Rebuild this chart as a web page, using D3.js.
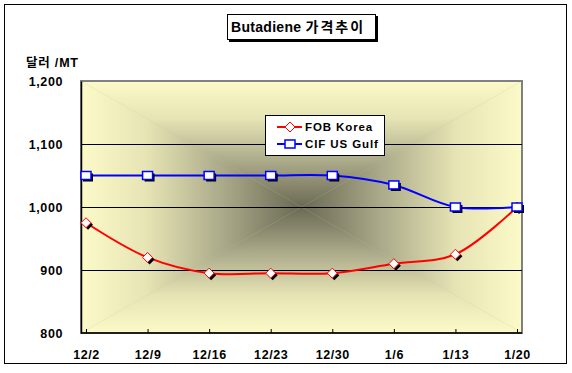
<!DOCTYPE html>
<html>
<head>
<meta charset="utf-8">
<script src="https://cdn.jsdelivr.net/npm/d3@7"></script>
<style>
  body { margin: 0; background: #fff; }
  text { font-family: "Liberation Sans", Arial, "Noto Sans CJK KR", sans-serif; font-weight: bold; fill: #000; }
</style>
</head>
<body>
<div id="chart"></div>
<script>
// Chart data
const dates = ["12/2", "12/9", "12/16", "12/23", "12/30", "1/6", "1/13", "1/20"];
const fobKorea = [975, 920, 895, 895, 895, 910, 925, 1000];
const cifUsGulf = [1050, 1050, 1050, 1050, 1050, 1035, 1000, 1000];
const yTicks = [800, 900, 1000, 1100, 1200];

const width = 572;
const height = 373;

// Plot area box
const plot = { left: 81, top: 81, right: 522, bottom: 333 };

const svg = d3.select("#chart")
  .append("svg")
  .attr("width", width)
  .attr("height", height);

// Outer frame
svg.append("rect")
  .attr("x", 4.5).attr("y", 4.5)
  .attr("width", 562).attr("height", 359)
  .attr("fill", "#fff")
  .attr("stroke", "#000");

// Scales
const x = d3.scalePoint()
  .domain(dates)
  .range([86, 517]);

const y = d3.scaleLinear()
  .domain([800, 1200])
  .range([plot.bottom, plot.top]);

// Rectangular "from center" gradient, built from four triangles
const defs = svg.append("defs");
const cx = (plot.left + plot.right) / 2;
const cy = (plot.top + plot.bottom) / 2;
const stops = [
  [0, "#fcfac8"],
  [0.3, "#e6e4b4"],
  [0.65, "#a9a888"],
  [1, "#6a6954"]
];

const sides = [
  { id: "gTop", pts: [[plot.left, plot.top], [plot.right, plot.top], [cx, cy]], from: [cx, plot.top] },
  { id: "gBottom", pts: [[plot.left, plot.bottom], [plot.right, plot.bottom], [cx, cy]], from: [cx, plot.bottom] },
  { id: "gLeft", pts: [[plot.left, plot.top], [plot.left, plot.bottom], [cx, cy]], from: [plot.left, cy] },
  { id: "gRight", pts: [[plot.right, plot.top], [plot.right, plot.bottom], [cx, cy]], from: [plot.right, cy] }
];

sides.forEach(s => {
  const g = defs.append("linearGradient")
    .attr("id", s.id)
    .attr("gradientUnits", "userSpaceOnUse")
    .attr("x1", s.from[0]).attr("y1", s.from[1])
    .attr("x2", cx).attr("y2", cy);
  stops.forEach(st => {
    g.append("stop").attr("offset", st[0]).attr("stop-color", st[1]);
  });
});

svg.append("rect")
  .attr("x", plot.left).attr("y", plot.top)
  .attr("width", plot.right - plot.left)
  .attr("height", plot.bottom - plot.top)
  .attr("fill", "#c8c69c");

svg.append("g")
  .selectAll("polygon")
  .data(sides)
  .enter().append("polygon")
  .attr("points", d => d.pts.map(p => p.join(",")).join(" "))
  .attr("fill", d => `url(#${d.id})`);

// Plot area border
svg.append("rect")
  .attr("x", plot.left).attr("y", plot.top)
  .attr("width", plot.right - plot.left)
  .attr("height", plot.bottom - plot.top)
  .attr("fill", "none")
  .attr("stroke", "#808080")
  .attr("stroke-width", 2);

// Gridlines
svg.append("g")
  .selectAll("line")
  .data(yTicks.filter(v => v > 800 && v < 1200))
  .enter().append("line")
  .attr("x1", plot.left).attr("x2", plot.right)
  .attr("y1", d => Math.round(y(d)) + 0.5)
  .attr("y2", d => Math.round(y(d)) + 0.5)
  .attr("stroke", "#000");

// Y axis
const yAxis = svg.append("g")
  .attr("transform", `translate(${plot.left},0)`)
  .call(d3.axisLeft(y).tickValues(yTicks).tickFormat(d3.format(",")).tickSize(0).tickPadding(18));
yAxis.select(".domain").attr("stroke", "#000").attr("stroke-width", 1.5);
yAxis.selectAll("text")
  .style("font-size", "12.5px")
  .style("letter-spacing", "0.6px");

// X axis
const xAxis = svg.append("g")
  .attr("transform", `translate(0,${plot.bottom})`)
  .call(d3.axisBottom(x).tickSizeInner(-4).tickSizeOuter(0).tickPadding(17));
xAxis.select(".domain")
  .attr("d", `M${plot.left},0H${plot.right}`)
  .attr("stroke", "#000").attr("stroke-width", 1.5);
xAxis.selectAll(".tick line").attr("stroke", "#000");
xAxis.selectAll("text")
  .style("font-size", "12.5px")
  .style("letter-spacing", "0.6px");

// Series
const line = d3.line()
  .x((d, i) => x(dates[i]))
  .y(d => y(d))
  .curve(d3.curveCatmullRom.alpha(0.5));

svg.append("path")
  .datum(fobKorea)
  .attr("d", line)
  .attr("fill", "none")
  .attr("stroke", "#ff0000")
  .attr("stroke-width", 2);

svg.append("path")
  .datum(cifUsGulf)
  .attr("d", line)
  .attr("fill", "none")
  .attr("stroke", "#0000ff")
  .attr("stroke-width", 2);

const diamond = "M0,-5L5,0L0,5L-5,0Z";

// FOB Korea markers (with shadow)
const fobMarks = svg.append("g");
fobMarks.selectAll("path.shadow")
  .data(fobKorea)
  .enter().append("path")
  .attr("class", "shadow")
  .attr("d", diamond)
  .attr("transform", (d, i) => `translate(${x(dates[i]) + 2},${y(d) + 2})`)
  .attr("fill", "#000");
fobMarks.selectAll("path.mark")
  .data(fobKorea)
  .enter().append("path")
  .attr("class", "mark")
  .attr("d", diamond)
  .attr("transform", (d, i) => `translate(${x(dates[i])},${y(d)})`)
  .attr("fill", "#fff")
  .attr("stroke", "#ff0000")
  .attr("stroke-width", 1);

// CIF US Gulf markers (with shadow)
const cifMarks = svg.append("g");
cifMarks.selectAll("rect.shadow")
  .data(cifUsGulf)
  .enter().append("rect")
  .attr("class", "shadow")
  .attr("x", (d, i) => x(dates[i]) - 5 + 2)
  .attr("y", d => y(d) - 4 + 2)
  .attr("width", 10).attr("height", 8)
  .attr("fill", "#000");
cifMarks.selectAll("rect.mark")
  .data(cifUsGulf)
  .enter().append("rect")
  .attr("class", "mark")
  .attr("x", (d, i) => x(dates[i]) - 5)
  .attr("y", d => y(d) - 4)
  .attr("width", 10).attr("height", 8)
  .attr("fill", "#fff")
  .attr("stroke", "#0000ff")
  .attr("stroke-width", 1.5);

// Legend
const legend = svg.append("g");
legend.append("rect")
  .attr("x", 265.5).attr("y", 115.5)
  .attr("width", 119).attr("height", 40)
  .attr("fill", "#fff")
  .attr("stroke", "#000");

const legendItems = [
  { name: "FOB Korea", color: "#ff0000", shape: "diamond", y: 127 },
  { name: "CIF US Gulf", color: "#0000ff", shape: "square", y: 144 }
];

legendItems.forEach(item => {
  legend.append("line")
    .attr("x1", 277).attr("x2", 302)
    .attr("y1", item.y).attr("y2", item.y)
    .attr("stroke", item.color)
    .attr("stroke-width", 2);
  if (item.shape === "diamond") {
    legend.append("path")
      .attr("d", diamond)
      .attr("transform", `translate(290,${item.y})`)
      .attr("fill", "#fff")
      .attr("stroke", item.color);
  } else {
    legend.append("rect")
      .attr("x", 285).attr("y", item.y - 4)
      .attr("width", 10).attr("height", 8)
      .attr("fill", "#fff")
      .attr("stroke", item.color)
      .attr("stroke-width", 1.5);
  }
  legend.append("text")
    .attr("x", 305)
    .attr("y", item.y + 4)
    .style("font-size", "11.5px")
    .style("letter-spacing", "0.9px")
    .text(item.name);
});

// Title box with shadow
svg.append("rect")
  .attr("x", 229).attr("y", 16)
  .attr("width", 149).attr("height", 26)
  .attr("fill", "#000");
svg.append("rect")
  .attr("x", 227.5).attr("y", 14.5)
  .attr("width", 148).attr("height", 25)
  .attr("fill", "#fff")
  .attr("stroke", "#000");
const title = svg.append("text")
  .attr("x", 231)
  .attr("y", 32)
  .style("font-size", "14px");
title.append("tspan").style("letter-spacing", "0.3px").text("Butadiene ");
title.append("tspan").style("letter-spacing", "2px").text("가격추이");

// Y axis title
svg.append("text")
  .attr("x", 26)
  .attr("y", 67)
  .style("font-size", "12.5px")
  .style("letter-spacing", "0.8px")
  .text("달러 /MT");
</script>
</body>
</html>
